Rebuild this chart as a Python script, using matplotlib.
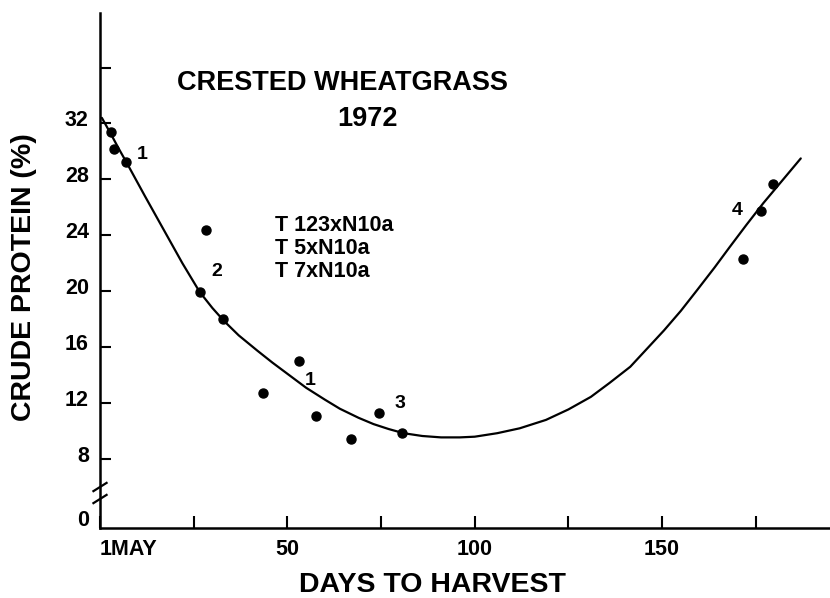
import numpy as np
import matplotlib.pyplot as plt
from matplotlib.transforms import ScaledTranslation

plt.rcParams['font.family'] = ['Liberation Sans', 'DejaVu Sans']

# Observed crude protein (%) against days after 1 May
days = [3.0, 3.7, 7.0, 28.3, 26.6, 32.9, 43.5, 53.0, 57.7, 67.1, 74.5, 80.7, 171.7, 176.4, 179.6]
protein = [31.4, 30.2, 29.25, 24.36, 19.95, 18.0, 12.76, 15.02, 11.07, 9.43, 11.29, 9.84, 22.3, 25.74, 27.7]

# Fitted curve as drawn in the figure
curve_days = [0.5, 3, 5, 7, 12, 17, 22, 26.6, 30, 33, 37, 42, 46, 51, 55, 60, 64, 69, 73, 77,
              81, 86, 91, 96, 100, 106, 112, 119, 125, 131, 136, 141.5, 146, 150.5, 155,
              159.3, 164, 168, 172.5, 177, 182, 187]
curve_protein = [32.4, 31.2, 30.2, 29.25, 26.8, 24.4, 22.0, 19.95, 18.8, 17.9, 16.85, 15.75,
                 14.9, 13.9, 13.1, 12.25, 11.6, 10.95, 10.5, 10.15, 9.85, 9.65, 9.55, 9.55,
                 9.6, 9.85, 10.2, 10.8, 11.55, 12.45, 13.45, 14.6, 15.9, 17.2, 18.6, 20.07,
                 21.7, 23.15, 24.75, 26.3, 27.9, 29.5]

# Harvest stage labels next to the curve
stage_labels = ['1', '2', '1', '3', '4']
stage_x = [11.2, 31.2, 56.1, 80.1, 170.1]
stage_y = [29.8, 21.4, 13.6, 12.0, 25.8]

clones = ['T 123xN10a', 'T 5xN10a', 'T 7xN10a']

x_ticks = [0, 25, 50, 75, 100, 125, 150, 175]
x_labels = ['1MAY', '', '50', '', '100', '', '150', '']
zero_pos = 3.43  # where the "0" is drawn below the axis break
y_ticks = [zero_pos, 8, 12, 16, 20, 24, 28, 32, 36]
y_labels = ['0', '8', '12', '16', '20', '24', '28', '32', '']

fig = plt.figure(figsize=(8.3, 5.98), dpi=100)
ax = fig.add_axes([100 / 830, 70 / 598, 730 / 830, 515 / 598])

ax.plot(curve_days, curve_protein, color='black', lw=1.6, solid_capstyle='round')
ax.plot(days, protein, 'o', color='black', ms=6.5)

for s, x, y in zip(stage_labels, stage_x, stage_y):
    ax.text(x, y, s, fontsize=14, fontweight='bold', ha='center', va='center')

ax.text(64.7, 34.9, 'CRESTED WHEATGRASS', fontsize=19.5, fontweight='bold',
        ha='center', va='center')
ax.text(71.3, 32.3, '1972', fontsize=19.5, fontweight='bold', ha='center', va='center')

for i, name in enumerate(clones):
    ax.text(46.8, 24.7 - 1.64 * i, name, fontsize=15.5, fontweight='bold',
            ha='left', va='center')

ax.set_xlim(0, 194.8)
ax.set_ylim(3.07, 39.9)

ax.spines['top'].set_visible(False)
ax.spines['right'].set_visible(False)
ax.spines['left'].set_linewidth(1.8)
ax.spines['bottom'].set_linewidth(1.8)

ax.set_xticks(x_ticks)
ax.set_xticklabels(x_labels, fontsize=15.5, fontweight='bold')
ax.xaxis.get_majorticklabels()[0].set_horizontalalignment('left')
ax.set_yticks(y_ticks)
ax.set_yticklabels(y_labels, fontsize=15.5, fontweight='bold')
ax.yaxis.get_major_ticks()[0].tick1line.set_visible(False)
ax.tick_params(axis='x', direction='in', length=9, width=1.5, pad=8)
ax.tick_params(axis='y', direction='in', length=8, width=1.5, pad=8)

shift = ScaledTranslation(0, 0.05, fig.dpi_scale_trans)
for lab in ax.get_yticklabels():
    lab.set_transform(lab.get_transform() + shift)

# axis break marks
for yb in (0.0796, 0.0563):
    ax.plot([-0.009, 0.009], [yb - 0.008, yb + 0.008], color='black', lw=1.6,
            transform=ax.transAxes, clip_on=False)

ax.set_xlabel('DAYS TO HARVEST', fontsize=20.5, fontweight='bold')
ax.set_ylabel('CRUDE PROTEIN (%)', fontsize=20.5, fontweight='bold')
ax.xaxis.set_label_coords(332 / 730, -44 / 515)
ax.yaxis.set_label_coords(-63 / 730, 251 / 515)

fig.savefig('out.png', dpi=100)
